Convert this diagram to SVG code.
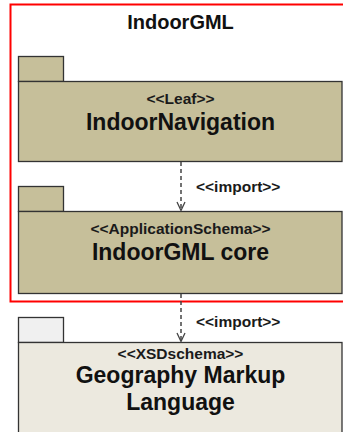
<svg xmlns="http://www.w3.org/2000/svg" width="343" height="432" viewBox="0 0 343 432">
<defs>
<style>
.pkg{fill:#c6bf9a;stroke:#333;stroke-width:1.3}
.ext{fill:#ece9df;stroke:#333;stroke-width:1.3}
.exttab{fill:#f0f0f0;stroke:#333;stroke-width:1.3}
.st{font-family:"Liberation Sans",Arial,sans-serif;font-weight:bold;font-size:15.5px;fill:#1a1a1a;text-anchor:middle}
.nm{font-family:"Liberation Sans",Arial,sans-serif;font-weight:bold;font-size:23px;fill:#111;text-anchor:middle}
.lbl{font-family:"Liberation Sans",Arial,sans-serif;font-weight:bold;font-size:15.5px;fill:#1a1a1a}
.dep{stroke:#444;stroke-width:1.5;stroke-dasharray:4 3;fill:none}
.ah{stroke:#444;stroke-width:1.3;fill:none}
</style>
</defs>
<rect width="343" height="432" fill="#fff"/>
<g id="IndoorGML">
<rect x="10.5" y="4.5" width="340" height="297" fill="none" stroke="#ff0000" stroke-width="2"/>
<text x="180.5" y="29" class="nm" style="font-size:20px">IndoorGML</text>
</g>
<g id="IndoorNavigation">
<rect x="18.5" y="56.5" width="45" height="25" class="pkg"/>
<rect x="18.5" y="81.5" width="323.5" height="80" class="pkg"/>
<text x="180.5" y="104" class="st">&lt;&lt;Leaf&gt;&gt;</text>
<text x="180.5" y="130" class="nm">IndoorNavigation</text>
</g>
<g id="IndoorGMLcore">
<rect x="18.5" y="186.5" width="45" height="25" class="pkg"/>
<rect x="18.5" y="211.5" width="323.5" height="82" class="pkg"/>
<text x="180.5" y="234" class="st">&lt;&lt;ApplicationSchema&gt;&gt;</text>
<text x="180.5" y="260" class="nm">IndoorGML core</text>
</g>
<g id="GML">
<rect x="18.5" y="317.5" width="45" height="25" class="exttab"/>
<rect x="18.5" y="342.5" width="323.5" height="100" class="ext"/>
<text x="180.5" y="358.5" class="st">&lt;&lt;XSDschema&gt;&gt;</text>
<text x="180.5" y="383" class="nm">Geography Markup</text>
<text x="180.5" y="410" class="nm">Language</text>
</g>
<g id="connectors">
<line x1="181" y1="162" x2="181" y2="210.5" class="dep"/>
<polyline points="177,202 181,210.5 185,202" class="ah"/>
<text x="196" y="192" class="lbl">&lt;&lt;import&gt;&gt;</text>
<line x1="181" y1="294" x2="181" y2="341.5" class="dep"/>
<polyline points="177,333 181,341.5 185,333" class="ah"/>
<text x="196" y="327" class="lbl">&lt;&lt;import&gt;&gt;</text>
</g>
</svg>
